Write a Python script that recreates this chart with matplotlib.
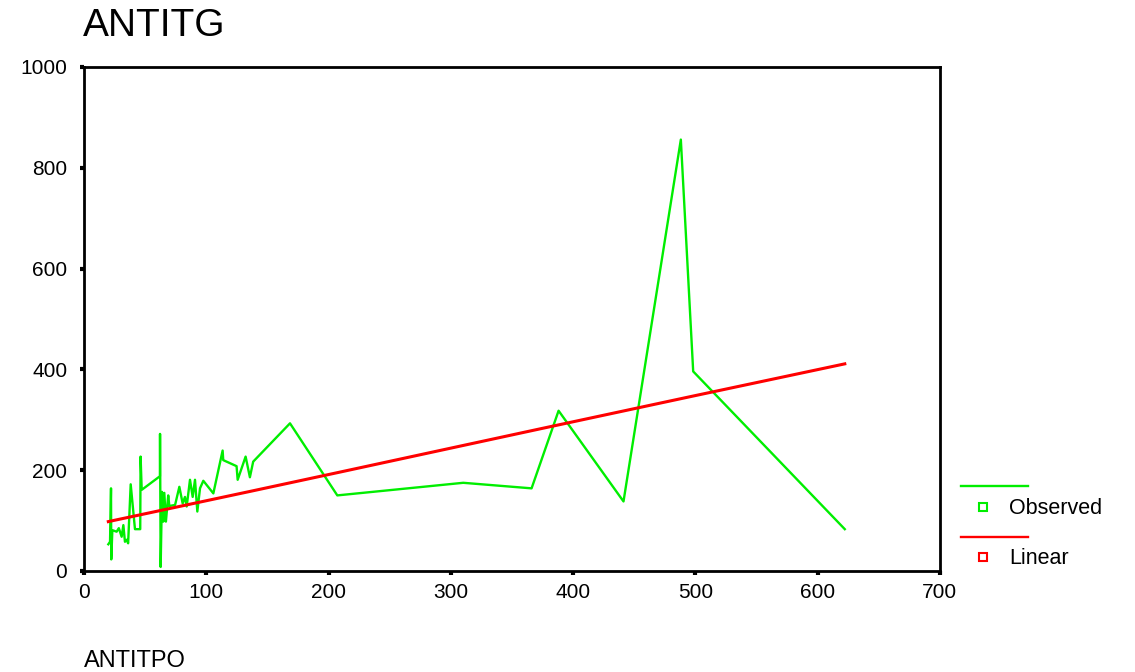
import matplotlib
matplotlib.use("Agg")
import matplotlib.pyplot as plt
from matplotlib.lines import Line2D

plt.rcParams['font.family'] = ['Liberation Sans', 'DejaVu Sans']

# observed ANTITPO vs ANTITG
obs_x = [19.9, 21.3, 22.1, 22.3, 23.2, 26.7, 28.5, 30.8, 32.2, 33.5, 35.0, 36.1,
         38.2, 41.7, 46.0, 46.3, 47.2, 62.1, 62.2, 62.7, 63.8, 64.9, 65.7, 67.0,
         68.9, 69.8, 74.5, 78.0, 80.7, 82.6, 84.0, 86.7, 88.9, 90.8, 92.7, 94.9,
         97.6, 105.8, 113.4, 113.9, 124.8, 125.7, 132.2, 135.7, 138.4, 168.5,
         207.2, 310.2, 366.1, 388.2, 441.3, 488.2, 498.3, 622.3]
obs_y = [53, 58, 164, 23, 81, 78, 85, 68, 91, 58, 62, 55,
         172, 83, 83, 227, 161, 188, 272, 8, 157, 98, 155, 98,
         150, 129, 131, 167, 134, 147, 128, 181, 147, 181, 118, 164,
         179, 154, 239, 220, 208, 181, 227, 186, 217, 293,
         150, 175, 164, 318, 138, 856, 396, 83]

# linear fit line
lin_x = [19.9, 136, 207, 310, 373, 498, 622.3]
lin_y = [98, 158, 195, 249, 282, 347, 411]

green = '#00ee00'
red = '#ff0000'

fig = plt.figure(figsize=(11.35, 6.72), dpi=100)
ax = fig.add_axes([0.074, 0.1503, 0.754, 0.75])

ax.plot(obs_x, obs_y, color=green, lw=1.7)
ax.plot(lin_x, lin_y, color=red, lw=2.2)

ax.set_xlim(0, 700)
ax.set_ylim(0, 1000)
ax.set_xticks(range(0, 701, 100))
ax.set_yticks(range(0, 1001, 200))
for s in ax.spines.values():
    s.set_linewidth(2)
ax.tick_params(direction='out', length=3, width=3, labelsize=15)
ax.tick_params(axis='y', pad=9)
ax.tick_params(axis='x', pad=6)

fig.text(0.073, 0.962, 'ANTITG', fontsize=28, va='center', ha='left')
fig.text(0.074, 1 - 667 / 672, 'ANTITPO', fontsize=17, va='baseline', ha='left')

# legend drawn by hand, outside the plot
fig.add_artist(Line2D([0.847, 0.906], [1 - 486 / 672] * 2, color=green, lw=1.7))
fig.add_artist(Line2D([0.866], [1 - 507 / 672], marker='s', ms=6, mfc='none',
                      mec=green, mew=1.5, ls='none'))
fig.text(0.889, 1 - 509 / 672, 'Observed', fontsize=15.5, va='center')
fig.add_artist(Line2D([0.847, 0.906], [1 - 537 / 672] * 2, color=red, lw=1.7))
fig.add_artist(Line2D([0.866], [1 - 557 / 672], marker='s', ms=6, mfc='none',
                      mec=red, mew=1.5, ls='none'))
fig.text(0.889, 1 - 559 / 672, 'Linear', fontsize=15.5, va='center')

fig.savefig('out.png', dpi=100)
